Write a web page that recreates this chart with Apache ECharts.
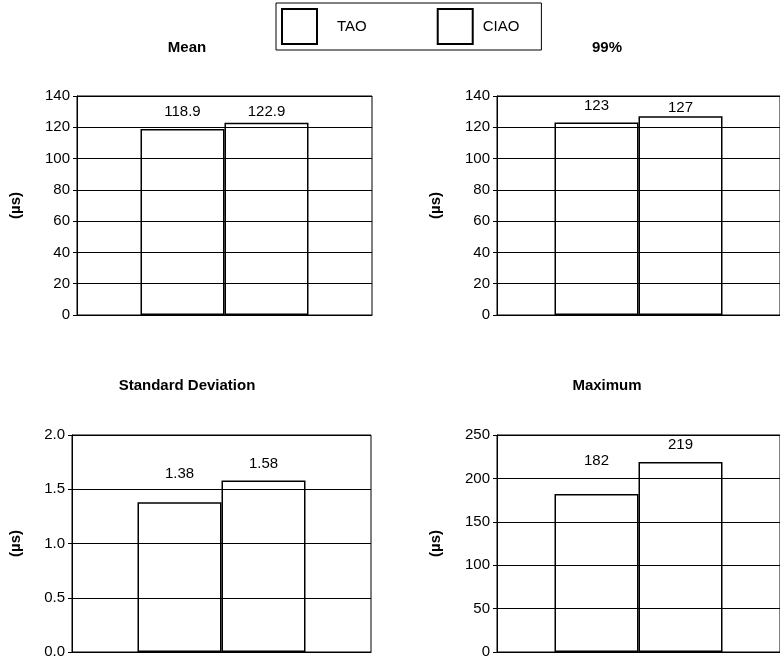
<!DOCTYPE html>
<html>
<head>
<meta charset="utf-8">
<script src="https://cdn.jsdelivr.net/npm/echarts@6/dist/echarts.min.js"></script>
<style>
  html, body { margin: 0; padding: 0; background: #fff; }
  #chart { width: 780px; height: 662px; }
</style>
</head>
<body>
<div id="chart"></div>
<script>
// Latency statistics, TAO vs CIAO, one panel per statistic
const seriesNames = ['TAO', 'CIAO'];
const panelTitles = ['Mean', '99%', 'Standard Deviation', 'Maximum'];
const taoValues = [118.9, 123, 1.38, 182];
const ciaoValues = [122.9, 127, 1.58, 219];
const axisMax = [140, 140, 2.0, 250];
const axisStep = [20, 20, 0.5, 50];
const axisDecimals = [0, 0, 1, 0];
const unitLabel = '(µs)';

// panel frames (plot area boxes)
const frames = [
  { left: 77, top: 96, width: 295, height: 219 },
  { left: 497, top: 96, width: 293, height: 219 },
  { left: 72, top: 435, width: 299, height: 217 },
  { left: 497, top: 435, width: 293, height: 217 }
];
const nameGaps = [54, 54, 49, 54];
const titleSpots = [[187, 40], [607, 40], [187, 378], [607, 378]];
// extra space between each bar top and its value label
const labelLift = [[10, 3], [9, 1], [21, 9], [26, 10]];

const font = 'Liberation Sans, Arial, sans-serif';

const grids = [], xAxes = [], yAxes = [], series = [], titles = [];
frames.forEach((f, i) => {
  grids.push(Object.assign({
    show: true, borderColor: '#000', borderWidth: 1, backgroundColor: 'transparent'
  }, f));
  titles.push({
    text: panelTitles[i], left: titleSpots[i][0], top: titleSpots[i][1],
    textAlign: 'center', padding: 0,
    textStyle: { fontFamily: font, fontSize: 15, fontWeight: 'bold', color: '#000' }
  });
  xAxes.push({
    type: 'category', gridIndex: i, data: [panelTitles[i]],
    axisLine: { show: true, lineStyle: { color: '#000', width: 1 } },
    axisTick: { show: false }, axisLabel: { show: false }, splitLine: { show: false }
  });
  yAxes.push({
    type: 'value', gridIndex: i, min: 0, max: axisMax[i], interval: axisStep[i],
    name: unitLabel, nameLocation: 'middle', nameGap: nameGaps[i], nameRotate: 90,
    nameTextStyle: { fontFamily: font, fontSize: 15, fontWeight: 'bold', color: '#000' },
    axisLine: { show: true, lineStyle: { color: '#000', width: 1 } },
    axisTick: { show: true, length: 4, lineStyle: { color: '#000' } },
    axisLabel: {
      fontFamily: font, fontSize: 15, color: '#000', margin: 7,
      formatter: v => v.toFixed(axisDecimals[i])
    },
    splitLine: { show: true, lineStyle: { color: '#000', width: 1 } }
  });
  [taoValues, ciaoValues].forEach((vals, s) => {
    series.push({
      type: 'bar', name: seriesNames[s], xAxisIndex: i, yAxisIndex: i,
      data: [vals[i]], barWidth: 84, barGap: '0%',
      itemStyle: { color: 'rgba(255,255,255,0)', borderColor: '#000', borderWidth: 1.5 },
      label: {
        show: true, position: 'top', distance: labelLift[i][s],
        fontFamily: font, fontSize: 15, color: '#000',
        formatter: p => String(p.value)
      },
      emphasis: { disabled: true },
      animation: false
    });
  });
});

const chart = echarts.init(document.getElementById('chart'), null, { renderer: 'canvas' });
chart.setOption({
  backgroundColor: '#fff',
  animation: false,
  title: titles,
  legend: {
    left: 276, top: 3, orient: 'horizontal',
    padding: [5, 22, 5, 5],
    borderColor: '#000', borderWidth: 1,
    itemWidth: 35, itemHeight: 35, itemGap: 70,
    icon: 'rect',
    selectedMode: false,
    textStyle: { fontFamily: font, fontSize: 15, color: '#000' },
    data: [
      { name: 'TAO', textStyle: { padding: [0, 0, 0, 15] } },
      { name: 'CIAO', textStyle: { padding: [0, 0, 0, 5] } }
    ]
  },
  grid: grids,
  xAxis: xAxes,
  yAxis: yAxes,
  series: series
});
</script>
</body>
</html>
